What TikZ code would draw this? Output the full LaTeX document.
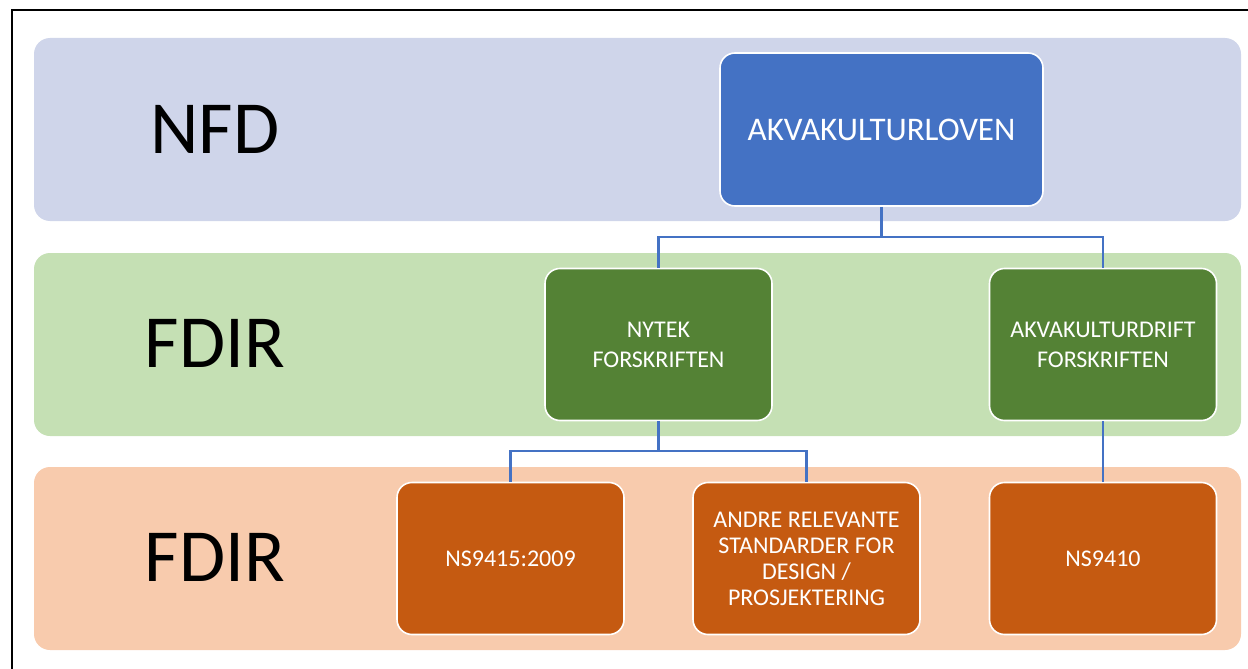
\documentclass[tikz,border=0pt]{standalone}
\usepackage{fontspec}
\setmainfont{Carlito}
\usepackage{xcolor}
\usepackage{tikz}
\usetikzlibrary{positioning, arrows.meta}

\definecolor{bandblue}{HTML}{CFD5EA}
\definecolor{bandgreen}{HTML}{C5E0B4}
\definecolor{bandorange}{HTML}{F8CBAD}
\definecolor{boxblue}{HTML}{4472C4}
\definecolor{boxgreen}{HTML}{548235}
\definecolor{boxorange}{HTML}{C55A11}
\definecolor{linkblue}{HTML}{4472C4}

\begin{document}
\begin{tikzpicture}[
    x=1pt, y=-1pt,
    band_style/.style={rounded corners=16pt, inner sep=0pt, minimum width=1207pt, minimum height=183pt},
    level_style/.style={font=\fontsize{75}{80}\selectfont, text=black, inner sep=0pt},
    box_style/.style={draw=white, line width=1.6pt, rounded corners=15pt, inner sep=0pt,
        minimum height=152pt, text=white, align=center, font=\fontsize{24}{30}\selectfont},
    link_style/.style={draw=linkblue, line width=2.4pt}
]
    \useasboundingbox (0,0) rectangle (1248,669);

    % Frame
    \draw[line width=2pt] (12,669) -- (12,10) -- (1248,10);

    % Bands
    \node[band_style, fill=bandblue] (band_nfd) at (637.5,129.5) {};
    \node[band_style, fill=bandgreen] (band_fdir) at (637.5,344.5) {};
    \node[band_style, fill=bandorange] (band_std) at (637.5,558.5) {};

    % Band labels
    \node[level_style] (lbl_nfd) at (215,129) {NFD};
    \node[level_style] (lbl_fdir) at (215,343) {FDIR};
    \node[level_style] (lbl_std) at (215,557) {FDIR};

    % Boxes
    \node[box_style, fill=boxblue, minimum width=323pt, minimum height=153pt,
        font=\fontsize{33}{38}\selectfont] (akva) at (881.5,129.5) {AKVAKULTURLOVEN};
    \node[box_style, fill=boxgreen, minimum width=227pt] (nytek) at (658.5,344.5)
        {NYTEK\\FORSKRIFTEN};
    \node[box_style, fill=boxgreen, minimum width=227pt] (drift) at (1103,344.5)
        {AKVAKULTURDRIFT\\FORSKRIFTEN};
    \node[box_style, fill=boxorange, minimum width=227pt] (ns9415) at (510.5,558.5)
        {NS9415:2009};
    \node[box_style, fill=boxorange, minimum width=227pt,
        font=\fontsize{24}{26}\selectfont] (andre) at (806.5,558.5)
        {ANDRE RELEVANTE\\STANDARDER FOR\\DESIGN /\\PROSJEKTERING};
    \node[box_style, fill=boxorange, minimum width=227pt] (ns9410) at (1103,558.5)
        {NS9410};

    % Connectors
    \coordinate (split_top) at (881.5,237);
    \coordinate (split_mid) at (658.5,451);

    \draw[link_style] (akva.south) -- (split_top);
    \draw[link_style] (split_top) -| (nytek.north);
    \draw[link_style] (split_top) -| (drift.north);
    \draw[link_style] (nytek.south) -- (split_mid);
    \draw[link_style] (split_mid) -| (ns9415.north);
    \draw[link_style] (split_mid) -| (andre.north);
    \draw[link_style] (drift.south) -- (ns9410.north);
\end{tikzpicture}
\end{document}
